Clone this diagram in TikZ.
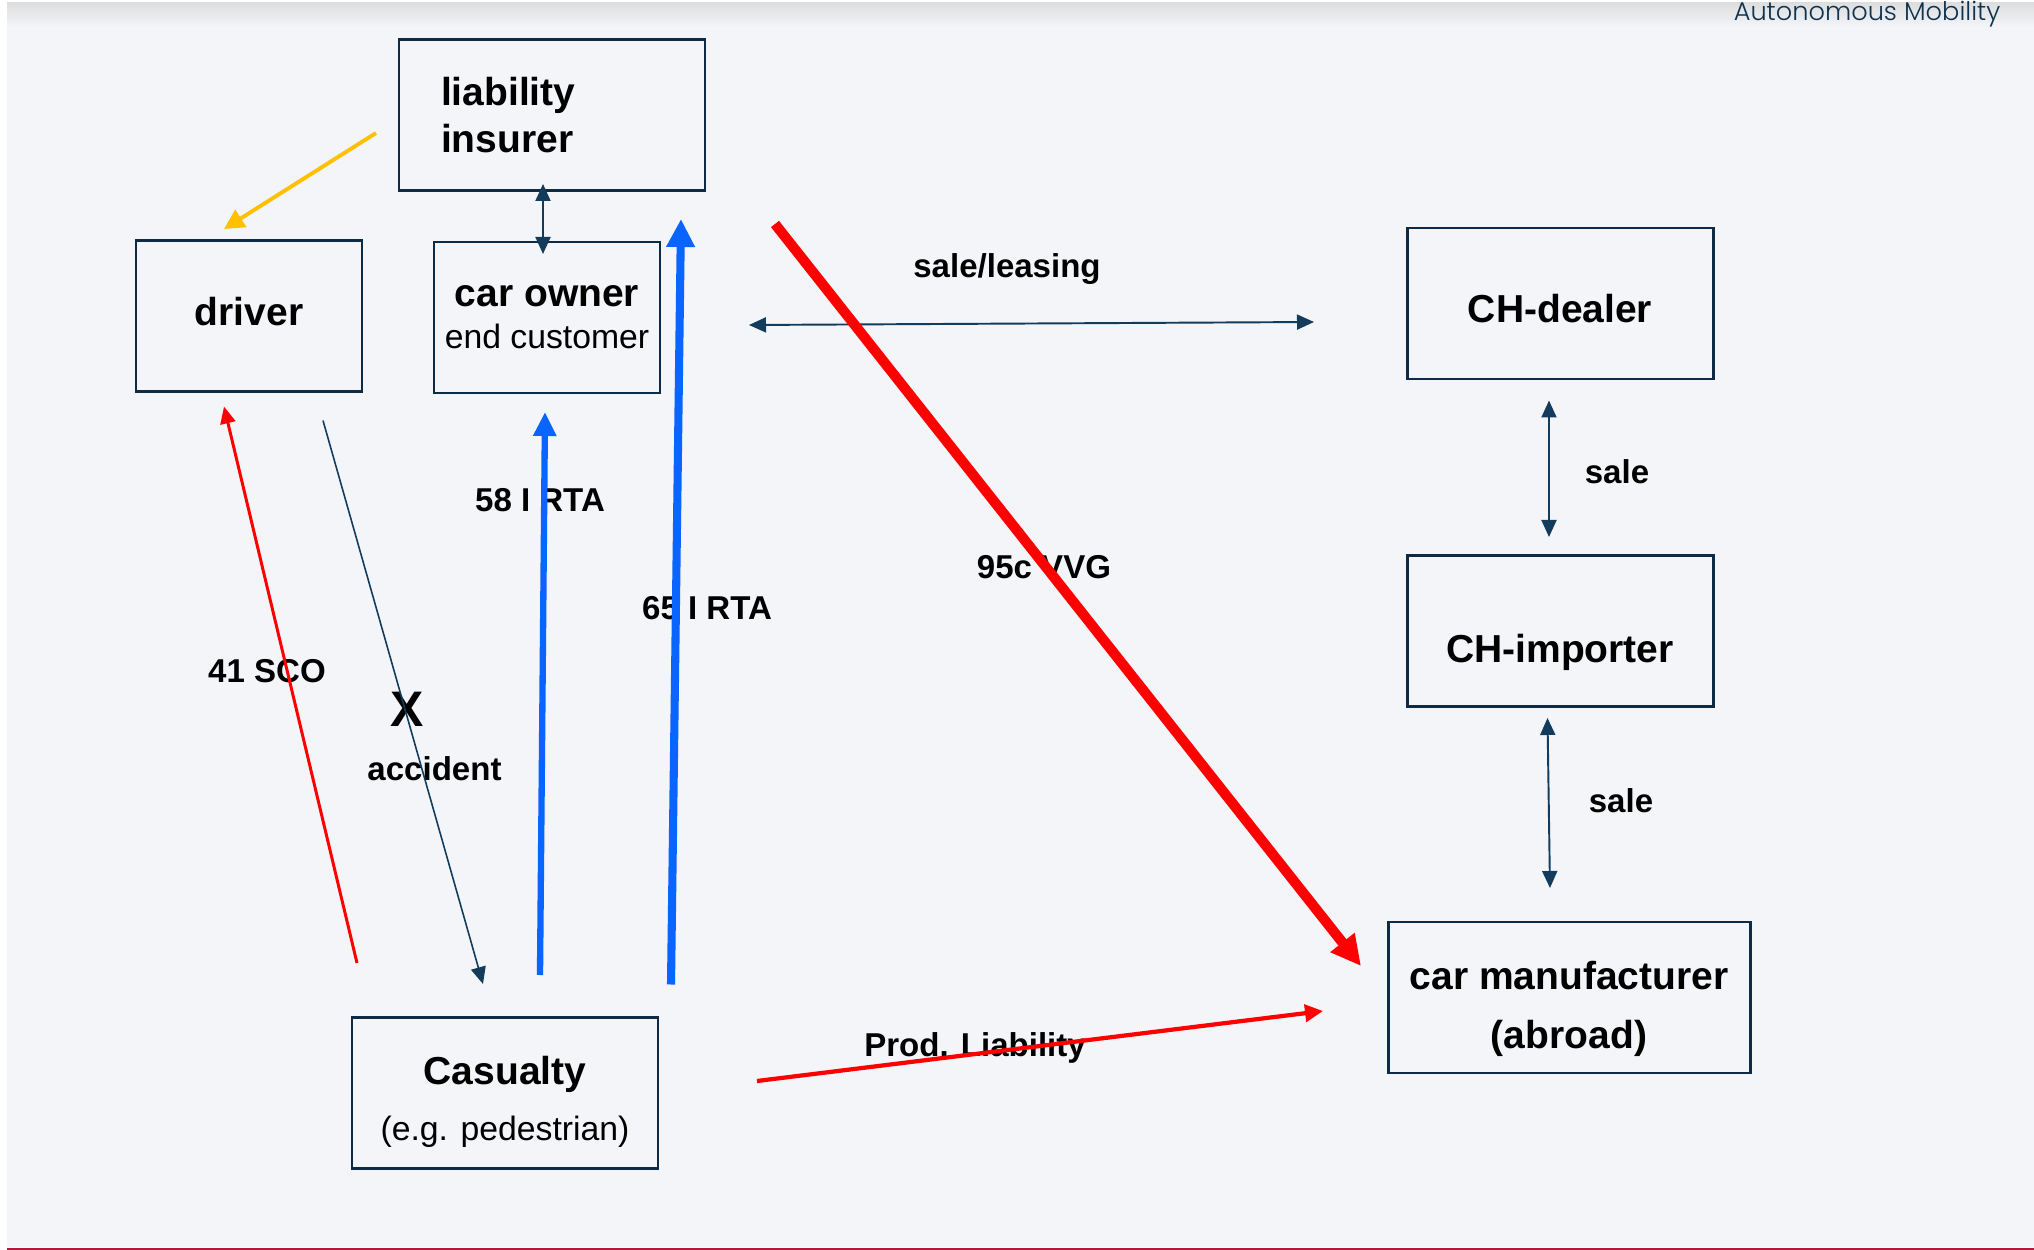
\documentclass[tikz,border=0pt]{standalone}
\usepackage{fontspec}
\setmainfont{Liberation Sans}
\newfontfamily\brandfont{Poppins}[UprightFont=* Light]
\usetikzlibrary{arrows.meta}
\definecolor{bgpage}{HTML}{F3F5F9}
\definecolor{boxline}{HTML}{0F2A45}
\definecolor{navy}{HTML}{123B5C}
\definecolor{rtablue}{HTML}{0A64FF}
\definecolor{amber}{HTML}{FFC000}
\definecolor{brandred}{HTML}{B5163A}
\begin{document}
\begin{tikzpicture}[>={Triangle[length=1.7mm,width=1.5mm]},
    box/.style={draw=boxline,line width=0.85pt,minimum height=1.51cm,inner sep=0pt,font=\bfseries\fontsize{11.1}{13.5}\selectfont},
    lbl/.style={inner sep=0pt,font=\bfseries\fontsize{9.4}{11}\selectfont}]
    % page
    \useasboundingbox (0,0) rectangle (20.34,-12.5);
    \fill[white] (0,0) rectangle (20.34,-12.5);
    \fill[bgpage] (0.07,-0.03) rectangle (20.34,-12.47);
    \shade[top color=black!13,bottom color=bgpage] (0.07,-0.03) rectangle (20.34,-0.27);
    \draw[brandred,line width=0.2mm] (0.07,-12.485)--(20.34,-12.485);
    \node[anchor=base,text=navy!85!black,inner sep=0pt,font=\brandfont\fontsize{7.3}{9}\selectfont] (brand) at (18.67,-0.205) {Autonomous Mobility};
    % boxes
    \node[box,minimum width=3.06cm,text width=2.22cm,align=left] (ins) at (5.52,-1.15) {liability\\insurer};
    \node[box,minimum width=2.26cm] (drv) at (2.49,-3.16) {\raisebox{0.4mm}[\height][\depth]{driver}};
    \node[box,minimum width=2.26cm,align=center] (own) at (5.47,-3.175) {car owner\\[-1.5pt]{\mdseries\fontsize{9.6}{12}\selectfont end customer}};
    \node[box,minimum width=3.06cm] (dlr) at (15.60,-3.035) {\raisebox{-0.5mm}[\height][\depth]{CH-dealer}};
    \node[box,minimum width=3.06cm] (imp) at (15.60,-6.31) {\raisebox{-2.1mm}[\height][\depth]{CH-importer}};
    \node[box,minimum width=3.62cm,font=\bfseries\fontsize{11.1}{16.8}\selectfont] (mfr) at (15.69,-9.975) {\raisebox{-1mm}[\height][\depth]{\begin{tabular}{@{}c@{}}car manufacturer\\(abroad)\end{tabular}}};
    \node[box,minimum width=3.06cm,font=\bfseries\fontsize{11.1}{15.9}\selectfont] (cas) at (5.05,-10.93) {\raisebox{-0.8mm}[\height][\depth]{\begin{tabular}{@{}c@{}}Casualty\\{\mdseries\fontsize{9.6}{12}\selectfont (e.g. pedestrian)}\end{tabular}}};
    % labels
    \node[lbl] (lLease) at (10.07,-2.69) {sale/leasing};
    \node[lbl] (lSaleA) at (16.17,-4.72) {sale};
    \node[lbl] (lSaleB) at (16.21,-8.01) {sale};
    \node[lbl] (lVVG) at (10.44,-5.67) {95c VVG};
    \node[lbl] (lRTAa) at (5.40,-5.00) {58 I RTA};
    \node[lbl] (lRTAb) at (7.07,-6.08) {65 I RTA};
    \node[lbl] (lSCO) at (2.67,-6.71) {41 SCO};
    \node[lbl,font=\bfseries\fontsize{14.2}{16}\selectfont] (cross) at (4.07,-7.095) {X};
    \node[lbl] (lAcc) at (4.345,-7.69) {accident};
    \node[lbl] (lProd) at (9.75,-10.48) {Prod. Liability};
    % arrow ends
    \coordinate (insB) at (5.43,-1.84); \coordinate (ownT) at (5.43,-2.54);
    \coordinate (yelA) at (3.76,-1.33); \coordinate (yelB) at (2.24,-2.29);
    \coordinate (rtaA) at (5.40,-9.75); \coordinate (rtaB) at (5.45,-4.12);
    \coordinate (rtcA) at (6.71,-9.845); \coordinate (rtcB) at (6.81,-2.19);
    \coordinate (vvgA) at (7.75,-2.24); \coordinate (vvgB) at (13.61,-9.66);
    \coordinate (leaA) at (7.49,-3.25); \coordinate (leaB) at (13.14,-3.22);
    \coordinate (dlrB) at (15.49,-4.005); \coordinate (impT) at (15.49,-5.37);
    \coordinate (impB) at (15.475,-7.18); \coordinate (mfrT) at (15.50,-8.88);
    \coordinate (prdA) at (7.57,-10.81); \coordinate (prdB) at (13.23,-10.11);
    \coordinate (scoA) at (3.57,-9.63); \coordinate (scoB) at (2.24,-4.065);
    \coordinate (accA) at (3.23,-4.205); \coordinate (accB) at (4.83,-9.84);
    % connectors
    \draw[<->,navy,line width=0.55pt] (insB)--(ownT);
    \draw[->,amber,line width=1.1pt,>={Triangle[length=2mm,width=2mm]}] (yelA)--(yelB);
    \draw[<->,navy,line width=0.55pt] (leaA)--(leaB);
    \draw[<->,navy,line width=0.55pt] (dlrB)--(impT);
    \draw[<->,navy,line width=0.55pt] (impB)--(mfrT);
    \draw[->,red,line width=0.85pt] (scoA)--(scoB);
    \draw[->,navy,line width=0.45pt] (accA)--(accB);
    \draw[->,rtablue,line width=1.8pt,>={Triangle[length=2.4mm,width=2.2mm]}] (rtaA)--(rtaB);
    \draw[->,rtablue,line width=2.3pt,>={Triangle[length=2.8mm,width=2.7mm]}] (rtcA)--(rtcB);
    \draw[->,red,line width=1.2pt,>={Triangle[length=1.8mm,width=1.7mm]}] (prdA)--(prdB);
    \draw[->,red,line width=2.9pt,>={Triangle[length=3mm,width=2.9mm]}] (vvgA)--(vvgB);
\end{tikzpicture}
\end{document}
